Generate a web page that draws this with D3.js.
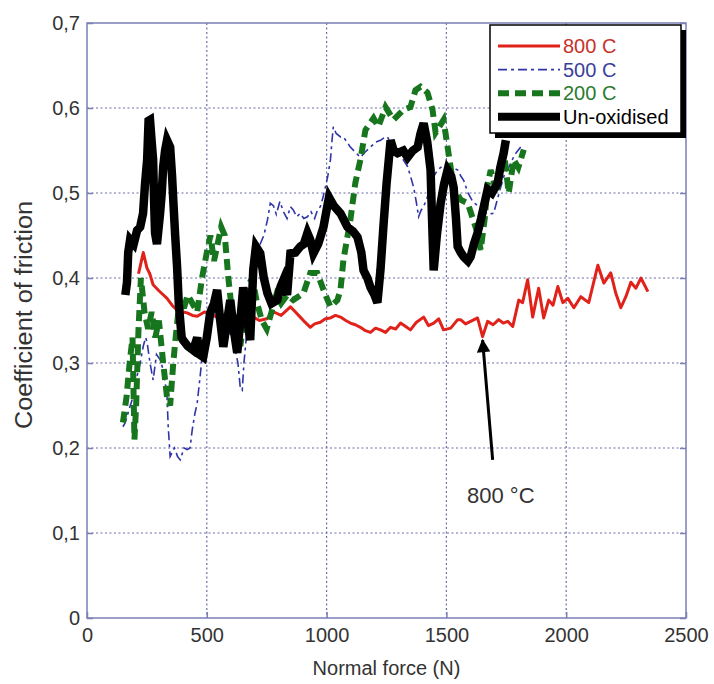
<!DOCTYPE html>
<html>
<head>
<meta charset="utf-8">
<script src="https://d3js.org/d3.v7.min.js"></script>
<style>
  body { margin: 0; background: #fff; }
  text { font-family: "Liberation Sans", Arial, sans-serif; }
</style>
</head>
<body>
<div id="chart"></div>
<script>
// ticks
var xTicks = [0, 500, 1000, 1500, 2000, 2500];
var yTicks = [0, 0.1, 0.2, 0.3, 0.4, 0.5, 0.6, 0.7];

// series: [normal force (N), coefficient of friction]
var red800 = [[215,0.405],[235,0.43],[250,0.412],[262,0.405],[276,0.392],[300,0.385],[334,0.376],[355,0.368],[376,0.362],[400,0.36],[418,0.359],[440,0.356],[460,0.355],[490,0.36],[520,0.358],[550,0.352],[580,0.355],[610,0.358],[640,0.352],[670,0.356],[694,0.354],[720,0.35],[750,0.352],[780,0.36],[810,0.356],[849,0.366],[870,0.36],[890,0.354],[910,0.348],[932,0.342],[950,0.346],[974,0.348],[995,0.352],[1016,0.353],[1037,0.356],[1058,0.354],[1080,0.35],[1099,0.347],[1120,0.345],[1141,0.342],[1162,0.338],[1183,0.336],[1204,0.341],[1225,0.339],[1246,0.336],[1267,0.342],[1288,0.34],[1309,0.347],[1330,0.343],[1350,0.339],[1375,0.348],[1405,0.354],[1425,0.344],[1447,0.347],[1468,0.352],[1488,0.339],[1518,0.341],[1547,0.351],[1559,0.351],[1580,0.346],[1601,0.349],[1630,0.353],[1651,0.331],[1672,0.349],[1695,0.345],[1718,0.351],[1737,0.347],[1756,0.349],[1777,0.343],[1802,0.374],[1818,0.371],[1839,0.398],[1860,0.354],[1885,0.388],[1906,0.353],[1927,0.374],[1945,0.368],[1965,0.39],[1986,0.371],[2007,0.376],[2032,0.365],[2061,0.378],[2094,0.371],[2132,0.415],[2157,0.394],[2186,0.406],[2207,0.382],[2228,0.365],[2249,0.378],[2270,0.395],[2291,0.388],[2312,0.4],[2341,0.384]];

var blue500 = [[150,0.225],[160,0.23],[175,0.245],[192,0.26],[205,0.28],[222,0.30],[235,0.32],[245,0.33],[251,0.324],[263,0.3],[276,0.28],[290,0.31],[305,0.304],[320,0.29],[334,0.26],[339,0.225],[347,0.19],[365,0.2],[378,0.19],[389,0.186],[405,0.2],[418,0.198],[430,0.2],[439,0.221],[450,0.24],[460,0.253],[472,0.284],[485,0.32],[500,0.35],[530,0.36],[560,0.35],[590,0.34],[615,0.32],[630,0.3],[640,0.27],[648,0.268],[655,0.3],[665,0.33],[680,0.37],[700,0.40],[710,0.42],[723,0.44],[738,0.45],[753,0.468],[765,0.488],[778,0.485],[790,0.475],[805,0.49],[820,0.478],[835,0.47],[849,0.484],[861,0.48],[875,0.472],[890,0.476],[905,0.47],[920,0.472],[935,0.478],[950,0.47],[962,0.48],[974,0.484],[985,0.495],[995,0.507],[1005,0.52],[1016,0.539],[1022,0.56],[1028,0.578],[1040,0.57],[1058,0.566],[1070,0.566],[1085,0.56],[1099,0.554],[1120,0.548],[1141,0.542],[1160,0.548],[1183,0.554],[1205,0.56],[1225,0.562],[1240,0.565],[1254,0.566],[1275,0.555],[1296,0.547],[1318,0.54],[1338,0.531],[1350,0.52],[1363,0.507],[1374,0.49],[1384,0.472],[1395,0.48],[1405,0.484],[1420,0.495],[1434,0.507],[1448,0.52],[1463,0.527],[1485,0.532],[1505,0.535],[1525,0.53],[1547,0.527],[1560,0.52],[1572,0.515],[1590,0.5],[1610,0.49],[1630,0.485],[1650,0.48],[1670,0.475],[1697,0.476],[1720,0.5],[1740,0.52],[1760,0.53],[1785,0.545],[1810,0.554]];

var green200 = [[150,0.23],[165,0.26],[178,0.3],[190,0.33],[198,0.21],[205,0.25],[215,0.34],[225,0.4],[240,0.36],[255,0.34],[270,0.36],[285,0.33],[300,0.35],[318,0.30],[334,0.26],[347,0.25],[360,0.30],[370,0.33],[385,0.37],[400,0.36],[420,0.38],[440,0.37],[460,0.36],[480,0.40],[500,0.43],[515,0.45],[530,0.42],[545,0.44],[560,0.46],[575,0.45],[590,0.40],[605,0.36],[620,0.34],[640,0.32],[655,0.35],[670,0.39],[690,0.40],[710,0.37],[730,0.35],[750,0.34],[770,0.36],[790,0.38],[810,0.37],[836,0.38],[861,0.374],[903,0.382],[932,0.406],[961,0.406],[987,0.386],[1016,0.366],[1045,0.374],[1058,0.386],[1070,0.421],[1099,0.468],[1120,0.512],[1141,0.539],[1162,0.574],[1196,0.588],[1216,0.578],[1246,0.601],[1279,0.586],[1321,0.598],[1350,0.601],[1371,0.621],[1392,0.625],[1421,0.618],[1442,0.598],[1455,0.571],[1488,0.586],[1505,0.554],[1530,0.507],[1559,0.492],[1589,0.488],[1630,0.453],[1643,0.433],[1660,0.47],[1672,0.51],[1685,0.527],[1710,0.50],[1739,0.551],[1760,0.50],[1781,0.539],[1800,0.53],[1823,0.551]];

var blackUnox = [[160,0.38],[167,0.395],[172,0.43],[180,0.445],[195,0.44],[209,0.456],[222,0.46],[234,0.476],[242,0.51],[251,0.539],[257,0.585],[263,0.586],[270,0.56],[276,0.539],[280,0.49],[284,0.453],[292,0.44],[305,0.476],[312,0.5],[318,0.531],[326,0.55],[334,0.562],[347,0.554],[355,0.52],[360,0.492],[368,0.45],[376,0.413],[383,0.37],[389,0.35],[395,0.33],[401,0.327],[420,0.32],[443,0.315],[460,0.33],[470,0.31],[485,0.307],[500,0.33],[514,0.359],[530,0.37],[543,0.386],[556,0.35],[569,0.319],[585,0.35],[598,0.374],[612,0.34],[627,0.312],[640,0.35],[652,0.389],[665,0.36],[681,0.327],[694,0.41],[705,0.437],[723,0.429],[738,0.4],[753,0.382],[770,0.37],[794,0.374],[808,0.39],[820,0.398],[835,0.38],[849,0.429],[870,0.43],[890,0.437],[905,0.44],[920,0.453],[932,0.445],[945,0.429],[965,0.44],[987,0.46],[1000,0.48],[1010,0.495],[1030,0.485],[1058,0.476],[1087,0.46],[1110,0.455],[1129,0.448],[1145,0.43],[1154,0.409],[1170,0.4],[1183,0.389],[1200,0.38],[1212,0.371],[1225,0.41],[1237,0.46],[1250,0.51],[1267,0.562],[1280,0.55],[1296,0.547],[1320,0.55],[1338,0.542],[1360,0.55],[1380,0.554],[1392,0.57],[1405,0.582],[1420,0.56],[1434,0.527],[1440,0.47],[1447,0.409],[1460,0.45],[1476,0.488],[1490,0.51],[1505,0.527],[1520,0.52],[1530,0.507],[1540,0.47],[1547,0.437],[1560,0.43],[1572,0.425],[1590,0.42],[1601,0.425],[1615,0.44],[1630,0.453],[1645,0.47],[1656,0.484],[1672,0.504],[1690,0.5],[1714,0.512],[1725,0.53],[1739,0.547],[1748,0.562]];

var seriesNames = ["800 C", "500 C", "200 C", "Un-oxidised"];

// annotation: arrow tip, arrow tail, label position (data units)
var arrowTip = [1651, 0.327];
var arrowTail = [1693, 0.186];
var noteLabel = [1727, 0.145];
var noteText = "800 °C";

var width = 714, height = 684;
var margin = {top: 23, right: 28, bottom: 66, left: 87};
var w = width - margin.left - margin.right;
var h = height - margin.top - margin.bottom;

var axisColor = "#7b7fb4";

var svg = d3.select("#chart")
    .append("svg")
    .attr("width", width)
    .attr("height", height)
    .style("background", "#fff");

var x = d3.scaleLinear().domain([0, 2500]).range([0, w]);
var y = d3.scaleLinear().domain([0, 0.7]).range([h, 0]);

var comma = d3.formatLocale({decimal: ",", thousands: ".", grouping: [3], currency: ["", ""]}).format("~g");

var g = svg.append("g").attr("transform", "translate(" + margin.left + "," + margin.top + ")");

// grid
g.append("g").selectAll("line").data(xTicks.slice(1, -1)).enter().append("line")
    .attr("x1", d => x(d)).attr("x2", d => x(d))
    .attr("y1", 0).attr("y2", h)
    .attr("stroke", "#6a6ea8").attr("stroke-width", 1.2)
    .attr("stroke-dasharray", "2,2.5");
g.append("g").selectAll("line").data(yTicks.slice(1, -1)).enter().append("line")
    .attr("y1", d => y(d)).attr("y2", d => y(d))
    .attr("x1", 0).attr("x2", w)
    .attr("stroke", "#6a6ea8").attr("stroke-width", 1.2)
    .attr("stroke-dasharray", "2,2.5");

// lines
var line = d3.line().x(d => x(d[0])).y(d => y(d[1]));

g.append("path").datum(red800).attr("d", line)
    .attr("fill", "none").attr("stroke", "#e0221b").attr("stroke-width", 3)
    .attr("stroke-linejoin", "round");

g.append("path").datum(blue500).attr("d", line)
    .attr("fill", "none").attr("stroke", "#2f35a8").attr("stroke-width", 1.6)
    .attr("stroke-dasharray", "9,4,3,4");

g.append("path").datum(green200).attr("d", line)
    .attr("fill", "none").attr("stroke", "#17751d").attr("stroke-width", 6)
    .attr("stroke-dasharray", "11,6");

g.append("path").datum(blackUnox).attr("d", line)
    .attr("fill", "none").attr("stroke", "#000").attr("stroke-width", 8.5)
    .attr("stroke-linejoin", "miter");

// axes box
g.append("rect").attr("width", w).attr("height", h)
    .attr("fill", "none").attr("stroke", axisColor).attr("stroke-width", 1.5);

g.append("g").attr("transform", "translate(0," + h + ")")
    .call(d3.axisBottom(x).tickValues(xTicks).tickFormat(d3.format("d")).tickSizeInner(-6).tickSizeOuter(0).tickPadding(10));
g.append("g")
    .call(d3.axisLeft(y).tickValues(yTicks).tickFormat(comma).tickSizeInner(-6).tickSizeOuter(0).tickPadding(7));
g.append("g").attr("transform", "translate(" + w + ",0)")
    .call(d3.axisRight(y).tickValues(yTicks).tickFormat("").tickSizeInner(-6).tickSizeOuter(0));

g.selectAll(".domain").remove();
g.selectAll(".tick line").attr("stroke", axisColor).attr("stroke-width", 1.5);
g.selectAll(".tick text").attr("fill", "#333").style("font-size", "20px");

// axis titles
svg.append("text")
    .attr("x", margin.left + w / 2).attr("y", 675)
    .attr("text-anchor", "middle").attr("fill", "#333")
    .style("font-size", "20px")
    .text("Normal force (N)");
svg.append("text")
    .attr("transform", "translate(32,315) rotate(-90)")
    .attr("text-anchor", "middle").attr("fill", "#333")
    .style("font-size", "23px")
    .attr("textLength", 228).attr("lengthAdjust", "spacingAndGlyphs")
    .text("Coefficient of friction");

// annotation arrow
svg.append("defs").append("marker")
    .attr("id", "head").attr("viewBox", "0 0 10 10")
    .attr("refX", 9).attr("refY", 5)
    .attr("markerWidth", 5).attr("markerHeight", 4.5)
    .attr("orient", "auto")
    .append("path").attr("d", "M0,0L10,5L0,10Z").attr("fill", "#000");

g.append("line")
    .attr("x1", x(arrowTail[0])).attr("y1", y(arrowTail[1]))
    .attr("x2", x(arrowTip[0])).attr("y2", y(arrowTip[1]))
    .attr("stroke", "#000").attr("stroke-width", 3)
    .attr("marker-end", "url(#head)");

g.append("text")
    .attr("x", x(noteLabel[0])).attr("y", y(noteLabel[1]) + 8)
    .attr("text-anchor", "middle").attr("fill", "#333")
    .style("font-size", "22px")
    .text(noteText);

// legend
var lg = svg.append("g").attr("transform", "translate(490,25)");
lg.append("rect").attr("x", 5).attr("y", 5).attr("width", 191).attr("height", 108).attr("fill", "#000");
lg.append("rect").attr("width", 191).attr("height", 108).attr("fill", "#fff")
    .attr("stroke", "#000").attr("stroke-width", 1.5);

var legendStyle = [
    {color: "#e0221b", text: "#c8322b", sw: 3, dash: null},
    {color: "#2f35a8", text: "#3b3f9a", sw: 1.6, dash: "9,4,3,4"},
    {color: "#17751d", text: "#2a7a30", sw: 6, dash: "11,6"},
    {color: "#000", text: "#000", sw: 8, dash: null}
];

var items = lg.selectAll("g.item").data(seriesNames).enter().append("g")
    .attr("transform", (d, i) => "translate(0," + (21 + i * 23.6) + ")");
items.append("line")
    .attr("x1", 8).attr("x2", 70).attr("y1", 0).attr("y2", 0)
    .attr("stroke", (d, i) => legendStyle[i].color)
    .attr("stroke-width", (d, i) => legendStyle[i].sw)
    .attr("stroke-dasharray", (d, i) => legendStyle[i].dash);
items.append("text")
    .attr("x", 73).attr("y", 7)
    .attr("fill", (d, i) => legendStyle[i].text)
    .style("font-size", "20px")
    .text(d => d);
</script>
</body>
</html>
